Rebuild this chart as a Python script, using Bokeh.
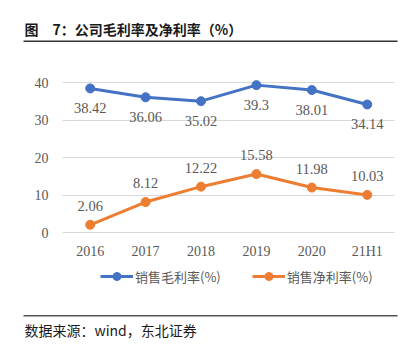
from bokeh.plotting import figure
from bokeh.models import (ColumnDataSource, Range1d, Label, Legend, LegendItem,
                          BoxAnnotation, FixedTicker)
from bokeh.core.properties import value
from bokeh.embed import file_html
from bokeh.resources import INLINE

categories = ["2016", "2017", "2018", "2019", "2020", "21H1"]
gross_margin = [38.42, 36.06, 35.02, 39.3, 38.01, 34.14]
net_margin = [2.06, 8.12, 12.22, 15.58, 11.98, 10.03]
gross_labels = ["38.42", "36.06", "35.02", "39.3", "38.01", "34.14"]
net_labels = ["2.06", "8.12", "12.22", "15.58", "11.98", "10.03"]
y_ticks = [0, 10, 20, 30, 40]
series_names = ["销售毛利率(%)", "销售净利率(%)"]
title_text = "图\u30007：公司毛利率及净利率（%）"
source_text = "数据来源：wind，东北证券"

BLUE = "#4472C4"
ORANGE = "#ED7D31"
GREY = "#595959"
SERIF = "Liberation Serif"
CJK = "Noto Sans CJK SC"
W, H = 408, 351

idx = list(range(len(categories)))
src = ColumnDataSource(dict(x=idx, g=gross_margin, n=net_margin,
                            gl=gross_labels, nl=net_labels))

# The frame covers the whole canvas; axes are drawn at fixed locations inside it.
p = figure(width=W, height=H, title=None,
           x_range=Range1d(-1.619, 5.745), y_range=Range1d(-31.733, 61.867),
           output_backend="svg", toolbar_location=None,
           min_border_left=0, min_border_right=0, min_border_top=0, min_border_bottom=0)
p.outline_line_color = None
p.background_fill_color = "white"
p.border_fill_color = "white"

p.xaxis.ticker = FixedTicker(ticks=idx)
p.xaxis.major_label_overrides = {i: c for i, c in zip(idx, categories)}
p.yaxis.ticker = FixedTicker(ticks=y_ticks)
p.xaxis.fixed_location = 0
p.yaxis.fixed_location = -0.5
for ax in (p.xaxis, p.yaxis):
    ax.axis_line_color = None
    ax.major_tick_line_color = None
    ax.minor_tick_line_color = None
    ax.major_label_text_font = SERIF
    ax.major_label_text_font_size = "14px"
    ax.major_label_text_color = GREY
p.yaxis.major_label_standoff = 8
p.xaxis.major_label_standoff = 5
p.xgrid.grid_line_color = None
p.ygrid.grid_line_color = "#D9D9D9"
p.ygrid.grid_line_width = 1
p.ygrid.cross_bounds = (-0.5, len(categories) - 0.5)

gl = p.line("x", "g", source=src, line_color=BLUE, line_width=3)
gs = p.scatter("x", "g", source=src, size=9, fill_color=BLUE, line_color=BLUE)
nl = p.line("x", "n", source=src, line_color=ORANGE, line_width=3)
ns = p.scatter("x", "n", source=src, size=9, fill_color=ORANGE, line_color=ORANGE)

p.text("x", "g", text="gl", source=src, y_offset=20, text_align="center", text_baseline="middle",
       text_font=value(SERIF), text_font_size="14.5px", text_color=GREY)
p.text("x", "n", text="nl", source=src, y_offset=-19, text_align="center", text_baseline="middle",
       text_font=value(SERIF), text_font_size="14.5px", text_color=GREY)

legend = Legend(items=[LegendItem(label=series_names[0], renderers=[gl, gs]),
                       LegendItem(label=series_names[1], renderers=[nl, ns])],
                orientation="horizontal", location=(100, H - 286),
                label_text_font=CJK, label_text_font_size="13px", label_text_color=GREY,
                glyph_width=33, glyph_height=20, label_height=20, spacing=31, label_standoff=2,
                border_line_color=None, background_fill_alpha=0, padding=0, margin=0)
p.add_layout(legend)

# screen units: measured from the bottom-left of the frame (= canvas)
p.add_layout(Label(x=24, y=H - 28, x_units="screen", y_units="screen", text=title_text,
                   text_font=CJK, text_font_size="14px", text_font_style="bold",
                   text_color="#1a1a1a", text_baseline="middle"))
p.add_layout(Label(x=24, y=H - 329, x_units="screen", y_units="screen", text=source_text,
                   text_font=CJK, text_font_size="14px", text_color="#1a1a1a",
                   text_baseline="middle"))
p.add_layout(BoxAnnotation(left=23, right=397, top=H - 40, bottom=H - 41.5,
                           left_units="screen", right_units="screen",
                           top_units="screen", bottom_units="screen",
                           fill_color="#333333", fill_alpha=1, line_color=None))
p.add_layout(BoxAnnotation(left=23, right=397, top=H - 314.5, bottom=H - 316,
                           left_units="screen", right_units="screen",
                           top_units="screen", bottom_units="screen",
                           fill_color="#555555", fill_alpha=1, line_color=None))

open("out.html", "w").write(file_html(p, INLINE))
